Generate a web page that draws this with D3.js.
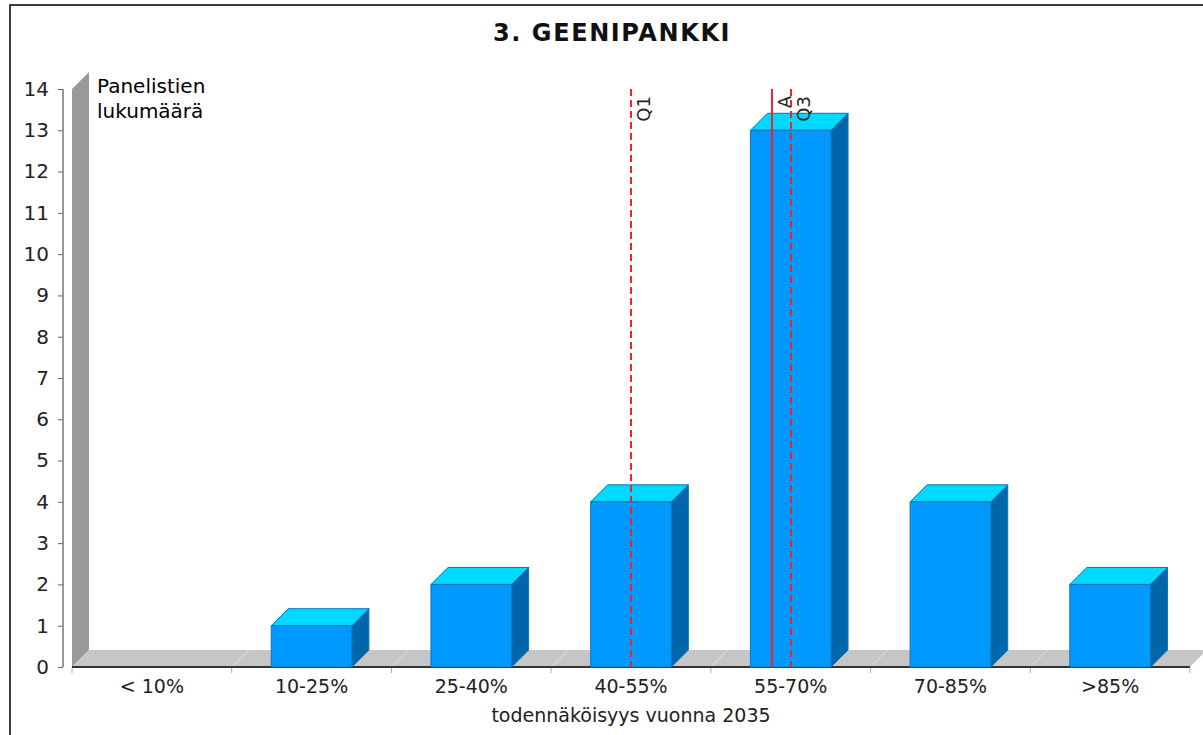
<!DOCTYPE html>
<html>
<head>
<meta charset="utf-8">
<script src="https://cdn.jsdelivr.net/npm/d3@7"></script>
<style>
  body { margin: 0; background: #fff; }
  svg { display: block; font-family: "DejaVu Sans", Verdana, sans-serif; }
</style>
</head>
<body>
<svg id="chart" width="1203" height="735"></svg>
<script>
// data
const categories = ["< 10%", "10-25%", "25-40%", "40-55%", "55-70%", "70-85%", ">85%"];
const counts = [0, 1, 2, 4, 13, 4, 2];
const yTicks = d3.range(0, 15);
// marker lines, in percent
const markerLabels = ["Q1", "A", "Q3"];
const markerValues = [47.5, 60.7, 62.5];
const markerDashed = [true, false, true];

const title = "3. GEENIPANKKI";
const yLabel = ["Panelistien", "lukumäärä"];
const xLabel = "todennäköisyys vuonna 2035";

const svg = d3.select('#chart');

// plot area
const plotLeft = 72, plotRight = 1190, plotTop = 89, plotBottom = 667;
const depth = 17;

const x = d3.scaleBand()
            .domain(categories)
            .range([plotLeft, plotRight])
            .padding(0);

const y = d3.scaleLinear()
            .domain([0, 14])
            .range([plotBottom, plotTop]);

// percent scale for the marker lines (middle bands are 15 % wide)
const xp = d3.scaleLinear()
             .domain([10, 85])
             .range([x("10-25%"), x(">85%")]);

// frame
svg.append("rect")
   .attr("x", 10).attr("y", 5)
   .attr("width", 1250).attr("height", 800)
   .attr("fill", "none")
   .attr("stroke", "#000")
   .attr("stroke-width", 1.5);

// title
svg.append("text")
   .attr("x", 612).attr("y", 41)
   .attr("text-anchor", "middle")
   .style("font-size", "24px")
   .style("font-weight", "bold")
   .style("letter-spacing", "1.6px")
   .attr("fill", "#111")
   .text(title);

// 3d wall and floor
svg.append("path")
   .attr("d", `M${plotLeft},${plotBottom}L${plotLeft},${plotTop}L${plotLeft + depth},${plotTop - depth}L${plotLeft + depth},${plotBottom - depth}Z`)
   .attr("fill", "#999");

svg.append("path")
   .attr("d", `M${plotLeft},${plotBottom}L${plotLeft + depth},${plotBottom - depth}L${plotRight + depth},${plotBottom - depth}L${plotRight},${plotBottom}Z`)
   .attr("fill", "#c6c6c6");

// floor grid lines at band edges
svg.selectAll(".floorLine")
   .data(categories.slice(1))
   .join("line")
   .attr("class", "floorLine")
   .attr("x1", d => x(d)).attr("y1", plotBottom)
   .attr("x2", d => x(d) + depth).attr("y2", plotBottom - depth)
   .attr("stroke", "#e2e2e2")
   .attr("stroke-width", 1);

svg.append("line")
   .attr("x1", plotLeft).attr("x2", plotRight)
   .attr("y1", plotBottom).attr("y2", plotBottom)
   .attr("stroke", "#333")
   .attr("stroke-width", 2);

// bars
const bw = x.bandwidth() * 0.505;
const bars = categories.map((c, i) => ({ cat: c, value: counts[i] })).filter(d => d.value > 0);

const barG = svg.append("g");
bars.forEach(d => {
    const x0 = x(d.cat) + (x.bandwidth() - bw) / 2;
    const x1 = x0 + bw;
    const y0 = y(d.value);
    const g = barG.append("g").attr("stroke", "#0a74b8").attr("stroke-width", 1).attr("stroke-linejoin", "round");
    // side
    g.append("path")
     .attr("d", `M${x1},${plotBottom}L${x1},${y0}L${x1 + depth},${y0 - depth}L${x1 + depth},${plotBottom - depth}Z`)
     .attr("fill", "#0066aa");
    // top
    g.append("path")
     .attr("d", `M${x0},${y0}L${x0 + depth},${y0 - depth}L${x1 + depth},${y0 - depth}L${x1},${y0}Z`)
     .attr("fill", "#00d9ff");
    // front
    g.append("rect")
     .attr("x", x0).attr("y", y0)
     .attr("width", bw).attr("height", plotBottom - y0)
     .attr("fill", "#0099ff");
});

// marker lines
const markers = markerLabels.map((l, i) => ({ label: l, value: markerValues[i], dashed: markerDashed[i] }));
svg.selectAll(".marker")
   .data(markers)
   .join("line")
   .attr("class", "marker")
   .attr("x1", d => Math.round(xp(d.value))).attr("x2", d => Math.round(xp(d.value)))
   .attr("y1", plotTop).attr("y2", plotBottom)
   .attr("stroke", "#f4222a")
   .attr("stroke-width", 2)
   .attr("shape-rendering", "crispEdges")
   .attr("stroke-dasharray", d => d.dashed ? "7,4" : null);

svg.selectAll(".markerLabel")
   .data(markers)
   .join("text")
   .attr("class", "markerLabel")
   .attr("transform", d => `translate(${xp(d.value) + 19},${plotTop + 7}) rotate(-90)`)
   .attr("text-anchor", "end")
   .style("font-size", "18px")
   .attr("fill", "#222")
   .text(d => d.label);

// y axis
const yAxis = svg.append("g")
   .attr("transform", `translate(63,0)`)
   .call(d3.axisLeft(y).tickValues(yTicks).tickSize(5).tickPadding(9).tickFormat(d3.format("d")));
yAxis.select(".domain").attr("stroke", "#333").attr("d", `M0,${plotBottom}V${plotTop}`);
yAxis.selectAll(".tick line").attr("stroke", "#666");
yAxis.selectAll("text").style("font-size", "20px").style("font-family", "DejaVu Sans").attr("fill", "#222");

// x axis
const xAxis = svg.append("g")
   .attr("transform", `translate(0,${plotBottom})`)
   .call(d3.axisBottom(x).tickSize(0).tickPadding(13));
xAxis.select(".domain").remove();
xAxis.selectAll("text").style("font-size", "19px").style("font-family", "DejaVu Sans").attr("fill", "#222");

// x ticks at band edges
svg.selectAll(".xEdge")
   .data(categories.concat(["end"]))
   .join("line")
   .attr("class", "xEdge")
   .attr("x1", (d, i) => i < categories.length ? x(d) : plotRight)
   .attr("x2", (d, i) => i < categories.length ? x(d) : plotRight)
   .attr("y1", plotBottom + 1).attr("y2", plotBottom + 6)
   .attr("stroke", "#aaa");

// axis labels
svg.append("text")
   .attr("x", 631).attr("y", 722)
   .attr("text-anchor", "middle")
   .style("font-size", "19px")
   .attr("fill", "#222")
   .text(xLabel);

svg.append("text")
   .attr("x", 97).attr("y", 93)
   .style("font-size", "20px")
   .selectAll("tspan")
   .data(yLabel)
   .join("tspan")
   .attr("x", 97)
   .attr("dy", (d, i) => i === 0 ? 0 : 25)
   .text(d => d);
</script>
</body>
</html>
